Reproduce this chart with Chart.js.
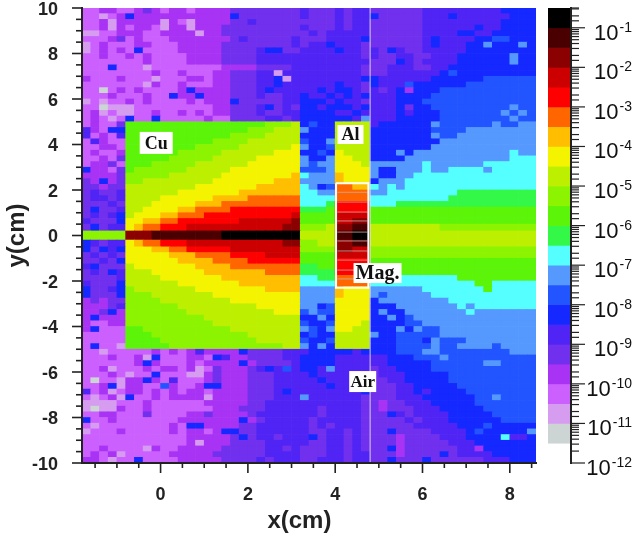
<!DOCTYPE html>
<html>
<head>
<meta charset="utf-8">
<title>Flux map</title>
<script src="https://cdn.jsdelivr.net/npm/chart.js@4"></script>
<style>
  html, body { margin: 0; padding: 0; background: #fff; }
  #wrap { position: relative; width: 640px; height: 539px; overflow: hidden; }
  canvas { position: absolute; top: 0; }
  #map { left: 0; }
  #bar { left: 540px; }
</style>
</head>
<body>
<div id="wrap">
  <canvas id="map" width="640" height="539"></canvas>
  <canvas id="bar" width="100" height="539"></canvas>
</div>
<script>
// colour bands of the scale, black at the top, one letter per band in the grid below
var levelCodes = "abcdefghijklmnopqrstuv";
var levelColors = ["#000000", "#4a0000", "#8b0000", "#cc0000", "#ff0000", "#ff6600",
  "#ffbf00", "#f4f400", "#bcf000", "#8cf400", "#5cf408", "#33f848",
  "#55ffff", "#5599ff", "#2255ff", "#1428ff", "#5024f4", "#7030ee",
  "#a833f4", "#cc60ff", "#d69cf0", "#ccd4d4"];
// band edges as powers of ten, top to bottom
var levelExponents = [-0.5, -1, -1.5, -2, -2.5, -3, -3.5, -4, -4.5, -5, -5.5, -6,
  -6.5, -7, -7.5, -8, -8.5, -9, -9.5, -10, -10.5, -11, -11.5];

var barMajorTicks = [-1, -2, -3, -4, -5, -6, -7, -8, -9, -10, -11, -12];

// one string per row from y=10 down, 52 columns from x=-1.8, spaces only for reading
var cellRows = [
"ttsst tsrst sstss ssrrr rrrrr qrrr qrqq rrrrr rqqqq qqqqq pppp",
"ttuts pssss sssss ssprr rrrrr qrrr qrqq prrrr rqqqp qqqqq qppp",
"ttsus ssssu stuss ssrrq rrrrr rrrr qrqq rrrrr rqqqq qqqqq pppp",
"ttsus tsstu ssuss srrrr rrrrr qrrr qrqq rrrrr rqqqq qqpqq pppp",
"uutts sstts sssus srrrr rrrrr rqrq qqqq rrrrr rqqqq ppqqp pppp",
"tttsr tsttt sssss ssrqr rrrrq rrrq qqqp rrrrr rqpqq qqppo oppp",
"utstt tsstt tssss srrrr rrrrq rqqp qqqr rrrrr rqpqq qppnp ppnp",
"utsts tpttt tssss srrrr qpprr qqqq pqqr qrpqr rqqqq qpppp pppp",
"ttstt ststt ttsss srrrr qqqqq qqqq qqqr qrrqq rrqqq ppppp pnpp",
"ttttt ttstt ttsss srrrr qqqqq qqqq qqqq rrrpq rqqqq ppppp pnpp",
"tttpt ttutt ttttt tssss rrrrq qqqq qqqr rrqqq rrqqp ppppp pppp",
"ttttt tttst tsttt ssrrr qquqq qqqq qqqr rrqqq qqqpo ppppp pppp",
"sttts tttut ttsst ssrrr qqpuq qqqq qqqp pqqqq qqppp pppoo oooo",
"ttttt ttust tsttt ssrrr qqpqq qqqq pqqr pqqqo ppppp poooo oooo",
"ttvts tsttt tspss ssrrr qpqqq qqpq ppqr qrqps pppoo ooooo oooo",
"tttst ttstt pssps ssrrr qrrqq pqqp qpqp qqqpp ppooo ooooo oooo",
"ututt ststt ttsts ssprr rrrqq pppq pqqr qqqpp poooo ooooo oooo",
"ttvuu utttt ttttt ssrrr qprqr ppqp ppqp qqqpr ppooo ooooo onoo",
"tsutu uttst tstst ssrrr qrrqq pppp qqpq qqqpq pppoo ooooo nono",
"tstut pttpt tttts ttrrr rqqrq pppp ppqn qqqpp pppoo ooooo onoo",
"tsttr kkkkk kkkkk kkkkk kjjji popp iiii qpppp ppnoo oooon oonn",
"qstpp kkkkk kkkkk kkkkj jjiii nppp iiii ppppp ppooo onnnn nnnn",
"qtstq kkkkk kkkkk kkjjj jiiii pppp iiii ppppp ppnoo nnnnn nnnn",
"tqstt kkkkk kkkkk jjjji iiiii oppn iiii ppppp pppnn nnnnn nnnn",
"ttsst kkkkk kkkjj jjjii iiiih nppo iiii ppppp ppnnn nnnnn nnnn",
"tstts kkkkk kjjjj jiiii iihhh ppop hiii pppnp nnnnn nnnnn nmnn",
"ttstr kkkkk jjjjj iiiii hhhhh nppn hhii ppppn nnnnn nnnnn nmmm",
"tssrt kkkjj jjjii iiiih hhhhh nonn hhhi nnnnn nmnnn nnnmm mmmm",
"psstr kjjjj jjiii iihhh hhhhh ooon hhhh nppnn nmnnm mmmnm mmmm",
"ssssr jjjjj iiiii ihhhh hhhhg mnnn ghhh nppnn mmmmm mmmmm mmmm",
"rspsr jjiii iiiii hhhhh hhggg nnnn ghhh pnnnm mmmmm mmmmm mmmm",
"rrsrr iiiii iiihh hhhhh ggggg mnpo ffgg mnmnm mmmmm mmmmm mmmm",
"rqrrq iiiii ihhhh hhhgg ggggg mmnn ffff nnmmm mmmmm lllll llll",
"rqqrq iiiih hhhhh ggggf fffff mmmm ffff mmmmm mmmml lllll llll",
"rrrqr iiihh hhhgg gffff fffff mmml eeee mmmll lllll lllll llll",
"rprrq iihhh hggff ffeee eeeee lllk eeee kkkkk kkkkk kkkkk kkkk",
"rqrqp ihhhg gfffe eeeee eeeed kkkk dddd kkkkk kkkkk kkkkk kkkk",
"qrrrp hhggf feeee eeedd ddddc kkkk ddcc kkkkk kkkkk kkkkk kkkk",
"rprqq hgffe eeddd ddddd dddcc jjji ccbb iiiii iiijj jjjjj jjjj",
"jjjjj cccbb bbbbb baaaa aaaaa iiii bbaa iiiii iiiii iiiii iiii",
"pqrqq hgffe eeddd ddddd dddcc jjii ccbb iiiii iiiii iiiii iiii",
"prpqp hhhgg ffeee eeddd ddddd jjjj ccdd jjjjj jjjjj jjjjj jjjj",
"rqrqr hhhhh gggff ffeee edddd kkkk dddd jjjjj jjjjj jjjjj jjjj",
"rrqrp hhhhh hgggg ffffe eeeee kkkk eeee kkkkk kkkkk kkkkk kkkk",
"qprrr ihhhh hhhgg ggfff fffff llkk eeee kkkkk kkkkk kkkkk kkkk",
"rqrpq iiihh hhhhg ggggg gffff llll eeee kkkkk kkkkk kkkkk kkkk",
"rrrrq iiiih hhhhh hgggg ggggg mmll ffff mmmmm mmmmm kkkkk kkkk",
"qrrrp iiiii ihhhh hhhgg ggggg mmmm ffff mmmmm mmmmm mmkkm mmmm",
"prrqp jiiii iiihh hhhhh hgggg nnnn ghhh nnnnn nmmmm mmmkm mmmm",
"prrrp jjjii iiiii hhhhh hhhhh nnnn ghhh nonnn nnmmm mmmmm mmmm",
"srsrr jjjji iiiii iihhh hhhhh nnnn hhhh pnnnn nnnnm mmmmm mmmm",
"sssrq jjjjj jiiii iiiii hhhhh nnpo hhhh pppnn nnnnn mnmmm mmmm",
"ssrps jjjjj jjiii iiiii iihhh onoo hhhh pnppn nnnnn nmnnn nnnn",
"spsss jjjjj jjjji iiiii iiiii ppnp hhhh ppnpo nnnnn nnnnn nnnn",
"sttss jjjjj jjjjj iiiii iiiii oppo hhhi ppppo onnnn nnnnn nnnn",
"spttt kkjjj jjjjj jjiii iiiii nopn hhii pppnp noonn nnnnn nnnn",
"ttttt kkkjj jjjjj jjjji iiiii popp iiii nppoo ooonn nnnnn nnnn",
"ttttt kkkkj jjjjj jjjjj iiiii oppo iiii pppoo opnoo onnnn nnnn",
"tpttu kkkkk jjjjj jjjjj jjjii npnp iiii pppoo oonoo nnnno nnnn",
"ttutt tttst stsqs ssspr rrrqq qppp ppqp pppoo onnoo ooooo onnn",
"tttst tsupt ttsst pqssr rrrqq pppp qqqq qqppp ooono ooooo oooo",
"ttttt tspst ttsts sssps rrrrq pppp qqqq qqppp ppooo ooonn oooo",
"ttsut ttsts stsut rsssr qpqoq ppqn qqqq rqqpp ppooo ooooo oooo",
"tttst uttpt ttuus rsssr rrqqq qpqq qqqq rqqqp ppppo ooooo oooo",
"tvttu sspst qttts rsssr rrqqq qqpq qqqq rrqqp ppppo ooooo oooo",
"ttspu sstto sttsp psssr rrqqq qqqp qqqq rrrqq ppppp ooooo oooo",
"qtsut sstst stsst ssssr rrqpq qqqq qqqp rrrqq pqppp poooo oooo",
"tutsu pttst ssssu ssssr rrqqq nqqq qqqr rrrqq qpppp ppoon oooo",
"uuuut ttstt tttts ssssr rqqqq qqqq qqqr rsrrq qqppp ppooo oooo",
"uvuus ttstt ttttt sssrr rqqqq qqrq qqqr rsrrr qqqpp pppoo oooo",
"ttsst ttrtt ttssr ssssr qqqqq qqrq qqqr rrpqr qqqqp ppppo oooo",
"pttst ttttt tssss sssps rqqqq qrqq qqqr rrrrq rqqqp ppppp oooo",
"tuttt ttttt stpps sssrr qqqqq qrqr qqqr rrrrr qqqqq pppop pppp",
"uttts ttttt stsst spprr qqqqq qrrq qrqr rrprr rrqqq qpopp pppn",
"ttttt ttttt ttsss ssrpr qqrqq qprq qrqr rrrsr rrrqq qpppp mqqp",
"ttttt ttttt ttsus ssrrr rqqqq qrrq qrqr rrrsr rrrrq qqppp pppp",
"ttstt ttust tssss srrrr rqqrq rrrq qrqr rrpsr rrrrr qqspp pppp",
"tstsu ttttt sssss rrrrr rqqqq rrrq qrqq rrrsr rrrpr qqqqp pppp",
"sstut tpttt tssss srrrr qrqqq rrqq qrqq rrprr rprrr rrrqq qppp"
];

// thin layers inside the magnet, y in cm
var magnetLayers = [1.9, 1.47, 1.03, 0.64, 0.15, -0.24, -0.68, -1.08, -1.52, -1.91];

// text boxes over the map, centre in cm, box size in px
var materialLabels = [
  { text: "Cu", x: -0.1, y: 4.07, w: 33, h: 22, size: 18 },
  { text: "Al", x: 4.35, y: 4.44, w: 26, h: 19, size: 18 },
  { text: "Mag.", x: 4.97, y: -1.65, w: 48, h: 20, size: 20 },
  { text: "Air", x: 4.63, y: -6.42, w: 27, h: 21, size: 17 }
];

var i, j;
var rowEdges = [];
for (j = 10; j >= 0.5; j -= 0.25) rowEdges.push(j);
rowEdges.push(0.2, -0.2);
for (j = -0.5; j >= -10; j -= 0.25) rowEdges.push(j);

var cellData = [];
var cellColors = [];
for (j = 0; j < cellRows.length; j++) {
  var row = cellRows[j].replace(/ /g, "");
  for (i = 0; i < row.length; i++) {
    cellData.push({ x: -1.7 + 0.2 * i, y: [rowEdges[j + 1], rowEdges[j]] });
    cellColors.push(levelColors[levelCodes.indexOf(row[i])]);
  }
}

var layerData = [];
for (j = 0; j < magnetLayers.length; j++) {
  layerData.push({ x: 4.05, y: magnetLayers[j] }, { x: 4.74, y: magnetLayers[j] }, { x: 4.74, y: null });
}

// Chart.js has one tick length per axis, so ticks are drawn here from the scale's own list
function drawTicks(scale, ctx, isMajor, majorLen, minorLen, lineWidth) {
  ctx.save();
  ctx.strokeStyle = "#222";
  ctx.lineWidth = lineWidth;
  scale.ticks.forEach(function(t) {
    var p = scale.getPixelForValue(t.value);
    var len = isMajor(t.value) ? majorLen : minorLen;
    ctx.beginPath();
    if (scale.axis === "x") {
      ctx.moveTo(p, scale.top);
      ctx.lineTo(p, scale.top + len);
    } else if (scale.position === "left") {
      ctx.moveTo(scale.right, p);
      ctx.lineTo(scale.right - len, p);
    } else {
      ctx.moveTo(scale.left, p);
      ctx.lineTo(scale.left + len, p);
    }
    ctx.stroke();
  });
  ctx.restore();
}

function evenValue(v) { return Math.abs(v % 2) < 0.001; }

var mapOverlay = {
  id: "mapOverlay",
  afterDraw: function(chart) {
    var ctx = chart.ctx;
    drawTicks(chart.scales.x, ctx, evenValue, 10, 5, 1.6);
    drawTicks(chart.scales.y, ctx, evenValue, 10, 6, 1.6);
    materialLabels.forEach(function(l) {
      var px = chart.scales.x.getPixelForValue(l.x);
      var py = chart.scales.y.getPixelForValue(l.y);
      ctx.fillStyle = "#fff";
      ctx.fillRect(px - l.w / 2, py - l.h / 2, l.w, l.h);
      ctx.fillStyle = "#111";
      ctx.font = "bold " + l.size + "px 'Liberation Serif'";
      ctx.textAlign = "center";
      ctx.textBaseline = "middle";
      ctx.fillText(l.text, px, py + 1);
    });
    // x title sits left of the axis centre in the picture
    ctx.fillStyle = "#222";
    ctx.font = "bold 24px 'Liberation Sans'";
    ctx.textAlign = "center";
    ctx.textBaseline = "middle";
    ctx.fillText("x(cm)", chart.scales.x.getPixelForValue(3.18), 521);
  }
};

var map = new Chart(document.getElementById("map"), {
  type: "bar",
  data: {
    datasets: [
      {
        type: "line",
        data: [{ x: 4.8, y: -10 }, { x: 4.8, y: 10 }],
        borderColor: "rgba(232,224,246,0.9)",
        borderWidth: 1,
        pointRadius: 0,
        order: 0
      },
      {
        type: "line",
        data: [{ x: 4.02, y: 2.3 }, { x: 4.76, y: 2.3 }, { x: 4.76, y: -2.3 }, { x: 4.02, y: -2.3 }, { x: 4.02, y: 2.3 }],
        borderColor: "#fff",
        borderWidth: 2,
        pointRadius: 0,
        order: 0
      },
      {
        type: "line",
        data: layerData,
        borderColor: "rgba(205,170,165,0.8)",
        borderWidth: 1,
        pointRadius: 0,
        spanGaps: false,
        order: 1
      },
      {
        data: cellData,
        backgroundColor: cellColors,
        borderWidth: 0,
        barThickness: 8.73,
        order: 2
      }
    ]
  },
  options: {
    responsive: false,
    animation: false,
    events: [],
    layout: { autoPadding: false, padding: { left: 0, top: 8, right: 104, bottom: 0 } },
    plugins: { legend: { display: false }, tooltip: { enabled: false }, title: { display: false } },
    scales: {
      x: {
        type: "linear",
        min: -1.8,
        max: 8.6,
        offset: false,
        grid: { display: false },
        border: { color: "#222", width: 2, z: 1 },
        ticks: {
          stepSize: 0.5,
          includeBounds: false,
          autoSkip: false,
          maxRotation: 0,
          padding: 13,
          color: "#222",
          font: { family: "'Liberation Sans'", size: 18, weight: "bold" },
          callback: function(v) { return evenValue(v) ? String(v) : ""; }
        },
        afterFit: function(scale) { scale.height = 76; scale.paddingLeft = 0; scale.paddingRight = 0; }
      },
      y: {
        type: "linear",
        min: -10,
        max: 10,
        grid: { display: false },
        border: { color: "#222", width: 2, z: 1 },
        title: {
          display: true,
          text: "y(cm)",
          color: "#222",
          padding: { top: 3, bottom: 0 },
          font: { family: "'Liberation Sans'", size: 24, weight: "bold" }
        },
        ticks: {
          stepSize: 0.5,
          autoSkip: false,
          padding: 16,
          labelOffset: 2,
          color: "#222",
          font: { family: "'Liberation Sans'", size: 18, weight: "bold" },
          callback: function(v) { return evenValue(v) ? String(v) : ""; }
        },
        afterFit: function(scale) { scale.width = 82; scale.paddingTop = 0; scale.paddingBottom = 0; }
      }
    }
  },
  plugins: [mapOverlay]
});

var barData = [];
for (i = 0; i < levelColors.length; i++) {
  barData.push({
    data: [[Math.pow(10, levelExponents[i + 1]), Math.pow(10, levelExponents[i])]],
    backgroundColor: levelColors[i],
    borderWidth: 0,
    barPercentage: 1,
    categoryPercentage: 1,
    grouped: false
  });
}

var barOverlay = {
  id: "barOverlay",
  afterDraw: function(chart) {
    var ctx = chart.ctx;
    var y = chart.scales.y;
    drawTicks(y, ctx, function(v) {
      var e = Math.log10(v);
      return Math.abs(e - Math.round(e)) < 0.001;
    }, 14, 8, 1.2);
    ctx.fillStyle = "#111";
    ctx.textBaseline = "alphabetic";
    barMajorTicks.forEach(function(e) {
      var p = y.getPixelForValue(Math.pow(10, e));
      var right = 92;
      ctx.font = "14px 'Liberation Sans'";
      var expText = String(e);
      var w = ctx.measureText(expText).width;
      ctx.textAlign = "left";
      ctx.fillText(expText, right - w, p + 4);
      ctx.font = "22px 'Liberation Sans'";
      ctx.textAlign = "right";
      ctx.fillText("10", right - w - 1, p + 12);
    });
  }
};

var bar = new Chart(document.getElementById("bar"), {
  type: "bar",
  data: { labels: ["flux"], datasets: barData },
  options: {
    responsive: false,
    animation: false,
    events: [],
    layout: { autoPadding: false, padding: { left: 8, top: 8, right: 0, bottom: 76 } },
    plugins: { legend: { display: false }, tooltip: { enabled: false } },
    scales: {
      x: { display: false },
      y: {
        type: "logarithmic",
        position: "right",
        min: Math.pow(10, -12),
        max: Math.pow(10, -0.5),
        grid: { display: false },
        border: { color: "#222", width: 2, z: 1 },
        ticks: { display: false, autoSkip: false },
        afterFit: function(scale) { scale.width = 69; }
      }
    }
  },
  plugins: [barOverlay]
});
</script>
</body>
</html>
